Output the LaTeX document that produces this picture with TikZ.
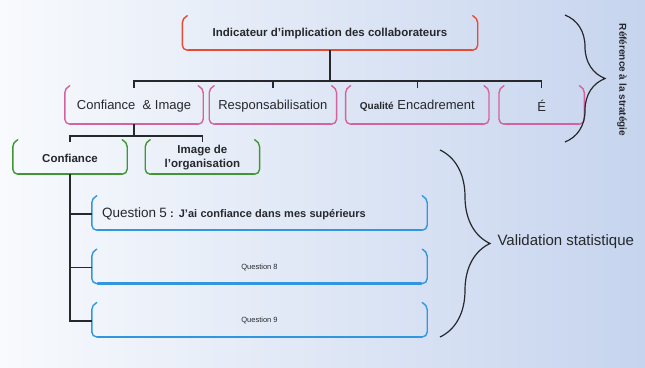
\documentclass[tikz,border=0pt]{standalone}
\usepackage{fontspec}
\setmainfont{Liberation Sans}
\usetikzlibrary{positioning, calc, decorations.pathreplacing}
\definecolor{indred}{RGB}{232,74,50}
\definecolor{indpink}{RGB}{212,98,160}
\definecolor{indgreen}{RGB}{64,150,52}
\definecolor{indblue}{RGB}{50,150,222}
\definecolor{bglight}{RGB}{248,250,253}
\definecolor{bgblue}{RGB}{198,212,238}
\definecolor{inkgray}{RGB}{38,40,44}

\begin{document}
\begin{tikzpicture}[x=1pt, y=-1pt,
    cup/.style={inner sep=0pt, align=center, text=inkgray},
    level1/.style={cup, minimum width=295pt, minimum height=32pt, font=\fontsize{11.5}{13}\selectfont\bfseries},
    level2/.style={cup, minimum height=36pt, font=\fontsize{13}{15}\selectfont},
    level3/.style={cup, minimum width=114pt, minimum height=32pt, font=\fontsize{11.5}{14}\selectfont\bfseries},
    question/.style={cup, minimum width=335pt, minimum height=32pt},
    cupline/.style={draw=#1, line width=1.4pt, rounded corners=5pt, line cap=round},
    cupbase/.style={draw=#1, line width=2.4pt, line cap=round},
    tree/.style={draw=inkgray, line width=1.5pt},
    bigbrace/.style={draw=inkgray, line width=1.2pt, decorate, decoration={brace, amplitude=#1}}
]
\useasboundingbox (0,0) rectangle (645,367);
\shade[left color=bglight, right color=bgblue] (0,0) rectangle (645,367);

% objectif global
\node[level1] (top) at (330,34) {Indicateur d'implication des collaborateurs};

% axes de la strategie
\node[level2, minimum width=138pt] (ci) at (134,106) {Confiance\ \ \& Image};
\node[level2, minimum width=127pt, right=6pt of ci] (resp) {Responsabilisation};
\node[level2, minimum width=143pt, right=9pt of resp] (qual) {{\fontsize{10}{12}\selectfont\bfseries Qualité} Encadrement};
\node[level2, minimum width=85pt, right=10pt of qual] (e) {É};

% sous-axes
\node[level3] (conf) at (70,158) {Confiance};
\node[level3, right=18pt of conf] (img) {Image de\\l'organisation};

% questions
\node[question, text width=315pt, align=left] (q5) at (259.5,214)
    {{\fontsize{13.5}{15}\selectfont Question 5} {\fontsize{11}{13}\selectfont\bfseries : J'ai confiance dans mes supérieurs}};
\node[question, below=21pt of q5, font=\fontsize{7.5}{9}\selectfont] (q8) {Question 8};
\node[question, below=21pt of q8, font=\fontsize{7.5}{9}\selectfont] (q9) {Question 9};

% boites ouvertes en haut
\foreach \n/\c in {top/indred, ci/indpink, resp/indpink, qual/indpink, e/indpink,
                   conf/indgreen, img/indgreen, q5/indblue, q8/indblue, q9/indblue} {
  \draw[cupline=\c] ($(\n.north west)+(5,-2)$) -- (\n.north west) -- (\n.south west)
      -- (\n.south east) -- (\n.north east) -- ($(\n.north east)+(-5,-2)$);
  \draw[cupbase=\c] ($(\n.south west)+(6,0)$) -- ($(\n.south east)+(-6,0)$);
}

% arborescence
\draw[tree] (top.south) -- ++(0,31) coordinate (bar1);
\draw[tree] (ci.north) |- (bar1) -| (e.north);
\draw[tree] (resp.north) -- (resp.north |- bar1);
\draw[tree] (qual.north) -- (qual.north |- bar1);
\draw[tree] (ci.south) -- ++(0,12) coordinate (bar2);
\draw[tree] (conf.north) |- (bar2) -| (img.north);
\draw[tree] (conf.south) |- (q5.west);
\draw[tree] (conf.south) |- (q8.west);
\draw[tree] (conf.south) |- (q9.west);

% accolades
\coordinate (s1) at (565,15);
\coordinate (s2) at (565,142);
\draw[bigbrace=40pt] (s1) -- (s2);
\node[rotate=-90, text=inkgray, font=\fontsize{10}{12}\selectfont\bfseries] (strat) at (622,80) {Référence à la stratégie};

\coordinate (v1) at (440,150);
\coordinate (v2) at (440,337);
\draw[bigbrace=50pt] (v1) -- (v2);
\node[anchor=west, text=inkgray, font=\fontsize{15}{17}\selectfont] (valid) at (494,242) {Validation statistique};
\end{tikzpicture}
\end{document}
